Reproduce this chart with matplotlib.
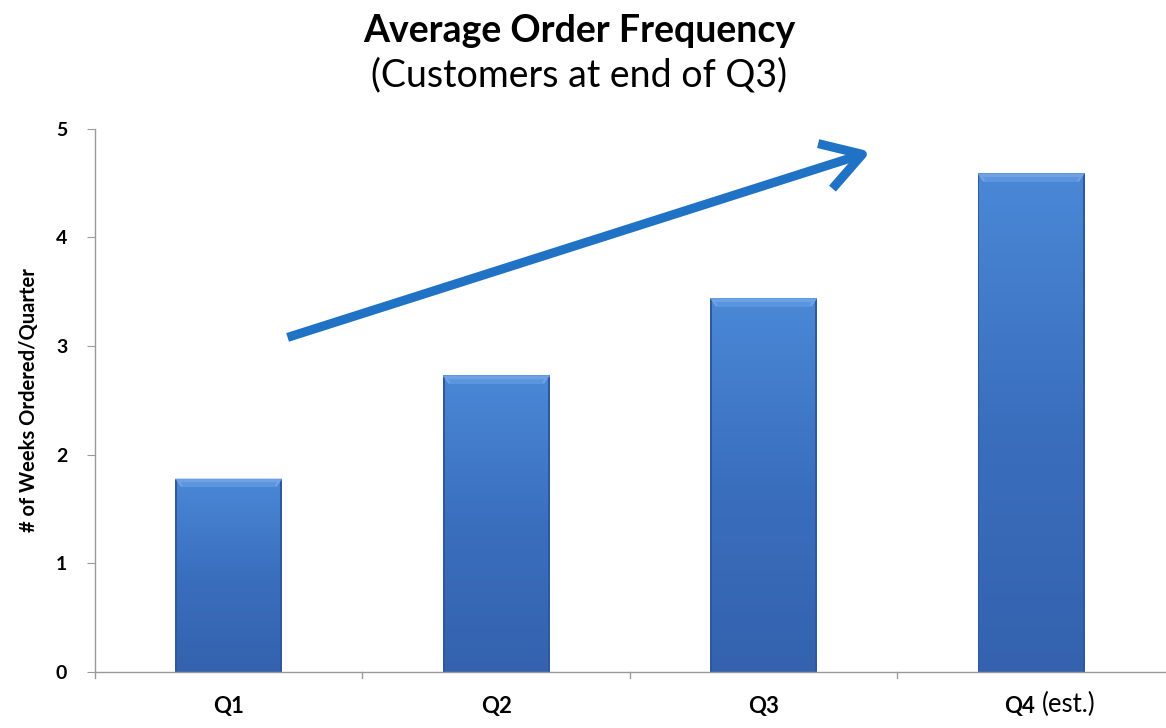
import numpy as np
import matplotlib.pyplot as plt
import matplotlib.transforms as mtransforms
from matplotlib.colors import LinearSegmentedColormap

quarters = ['Q1', 'Q2', 'Q3', 'Q4']
weeks_ordered = [1.78, 2.73, 3.44, 4.59]
y_ticks = [0, 1, 2, 3, 4, 5]

# trend arrow, data coords (category index, value)
trend_start = (0.22, 3.08)
trend_end = (2.40, 4.79)

plt.rcParams['font.family'] = ['Lato', 'DejaVu Sans']

fig = plt.figure(figsize=(11.66, 7.28), dpi=100)
ax = fig.add_axes([0.0815, 0.077, 0.9175, 0.746])

x = np.arange(len(quarters))
bar_w = 0.40
bars = ax.bar(x, weeks_ordered, width=bar_w, color='#3f78c8', zorder=2)

# vertical gradient inside each bar, lighter bevel at the top
body = LinearSegmentedColormap.from_list('body', ['#3462ae', '#3a6fbe', '#4a88d6'])
grad = np.linspace(0, 1, 256).reshape(-1, 1)
for b, v in zip(bars, weeks_ordered):
    x0 = b.get_x()
    im = ax.imshow(grad, cmap=body, aspect='auto', origin='lower',
                   extent=[x0, x0 + bar_w, 0, v], zorder=2.1)
    im.set_clip_path(b)
    cap = 0.075
    ax.fill([x0, x0 + bar_w, x0 + bar_w - 0.02, x0 + 0.02],
            [v, v, v - cap, v - cap], color='#6ea2e4', zorder=2.2, lw=0)
    ax.fill([x0 + 0.02, x0 + bar_w - 0.02, x0 + bar_w - 0.03, x0 + 0.03],
            [v - cap * 0.45, v - cap * 0.45, v - cap, v - cap],
            color='#5b95dd', zorder=2.3, lw=0)
    # darker side edges
    ax.fill_between([x0, x0 + 0.007], 0, v - 0.01, color='#30599c', zorder=2.1, lw=0)
    ax.fill_between([x0 + bar_w - 0.007, x0 + bar_w], 0, v - 0.01, color='#30599c',
                    zorder=2.1, lw=0)

ax.set_xlim(-0.5, len(quarters) - 0.5)
ax.set_ylim(0, 5)
ax.set_yticks(y_ticks)
ax.set_yticklabels([str(t) for t in y_ticks], fontsize=14, fontweight='bold')
ax.set_xticks(x)
ax.set_xticklabels(quarters, fontsize=16, fontweight='bold')
ax.xaxis.set_ticks_position('none')
ax.tick_params(axis='x', pad=14)
ax.tick_params(axis='y', length=6, color='#9a9a9a', pad=14)

# category separators on the x axis
for sep in np.arange(-0.5, len(quarters) - 0.5):
    ax.plot([sep, sep], [0, -0.06], color='#9a9a9a', lw=1, clip_on=False, zorder=1)

for side in ['top', 'right']:
    ax.spines[side].set_visible(False)
for side in ['left', 'bottom']:
    ax.spines[side].set_color('#9a9a9a')
    ax.spines[side].set_linewidth(1)

ax.set_ylabel('# of Weeks Ordered/Quarter', fontsize=14.5, fontweight='bold', labelpad=12)

# shift Q4 a little left so "Q4 (est.)" sits over the bar
q4 = ax.get_xticklabels()[-1]
q4.set_transform(q4.get_transform() +
                 mtransforms.ScaledTranslation(-12 / 100, 0, fig.dpi_scale_trans))
ax.annotate('(est.)', xy=(1, 0), xycoords=q4, xytext=(5, 0),
            textcoords='offset points', ha='left', va='bottom', fontsize=18.5)

ax.annotate('', xy=trend_end, xytext=trend_start,
            arrowprops=dict(arrowstyle='->,head_length=1.4,head_width=0.85',
                            mutation_scale=20, color='#1f72c4', lw=6.5,
                            shrinkA=0, shrinkB=0, capstyle='butt'),
            zorder=5, annotation_clip=False)

fig.text(0.497, 0.958, 'Average Order Frequency', ha='center', va='center',
         fontsize=27, fontweight='bold')
fig.text(0.497, 0.897, '(Customers at end of Q3)', ha='center', va='center',
         fontsize=27)

fig.savefig('out.png', dpi=100, facecolor='white')
